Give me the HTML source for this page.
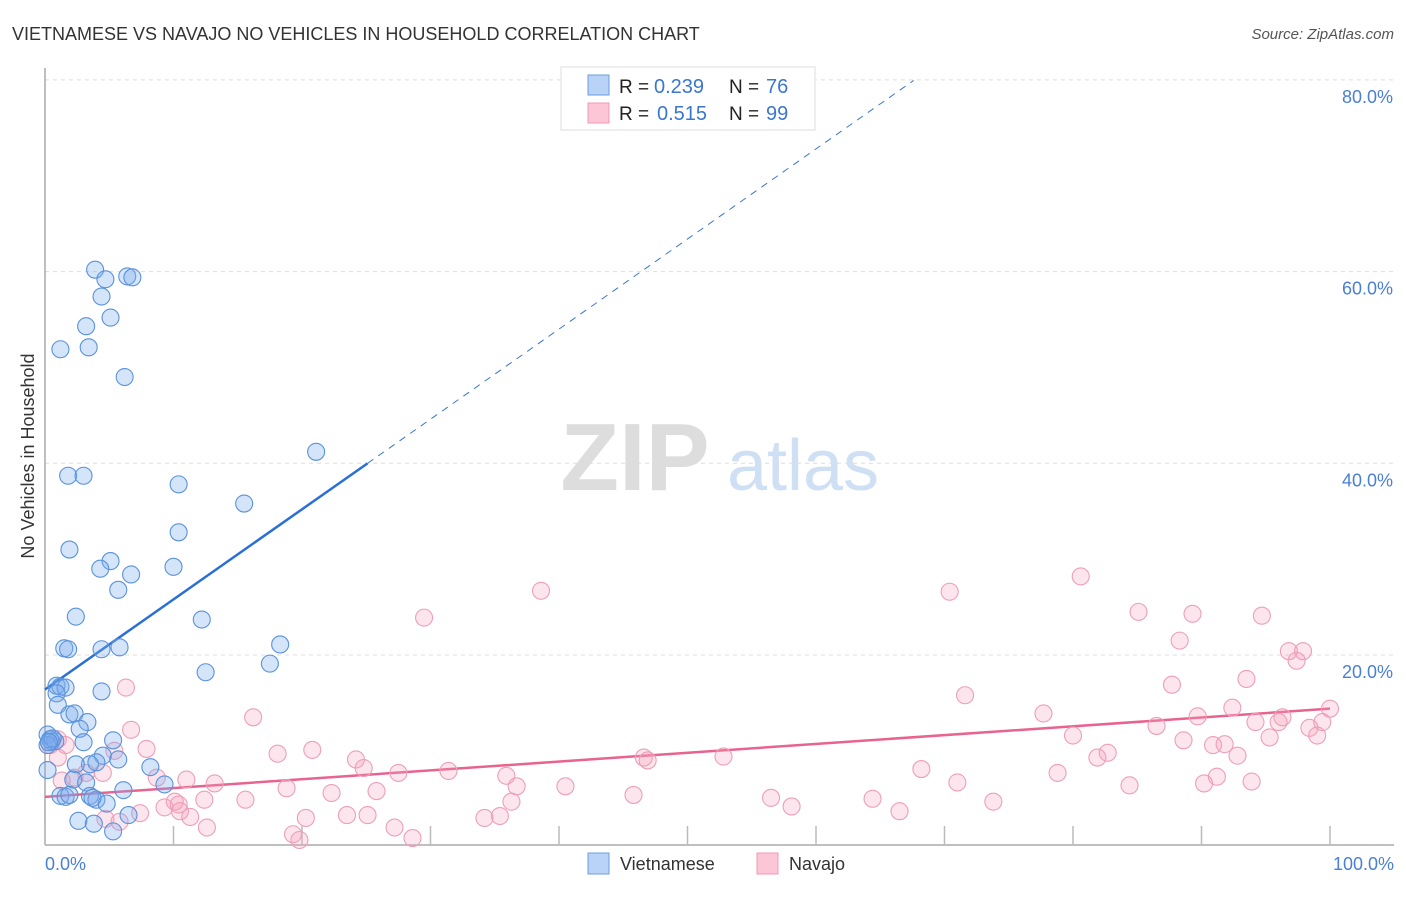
<!DOCTYPE html>
<html><head><meta charset="utf-8">
<style>
body{margin:0;background:#fff;font-family:"Liberation Sans",sans-serif;}
svg text{font-family:"Liberation Sans",sans-serif;}
</style></head>
<body>
<svg id="chart" width="1406" height="892" xmlns="http://www.w3.org/2000/svg">
<text x="12" y="40" font-size="18" fill="#333">VIETNAMESE VS NAVAJO NO VEHICLES IN HOUSEHOLD CORRELATION CHART</text>
<text x="1394" y="39" font-size="15" fill="#555" font-style="italic" text-anchor="end">Source: ZipAtlas.com</text>
<g>
<text x="635" y="490" font-size="96" fill="#ddd" font-family="Liberation Serif" text-anchor="middle" font-weight="bold">ZIP</text>
<text x="803" y="490" font-size="72" fill="#cfe0f5" text-anchor="middle">atlas</text>
</g>
<g id="grid"></g>
<g id="axes"></g>
<g id="trend"></g>
<g id="points"></g>
<text x="34" y="456" font-size="18" fill="#333" text-anchor="middle" transform="rotate(-90 34 456)">No Vehicles in Household</text>
<text x="45" y="870" font-size="18" fill="#4a7fd6">0.0%</text>
<text x="1394" y="870" font-size="18" fill="#4a7fd6" text-anchor="end">100.0%</text>
<g>
<rect x="561" y="67" width="254" height="63" fill="#fff" stroke="#ddd"/>
<rect x="588" y="75" width="21" height="20" fill="#b8d3f5" stroke="#6a9ee0"/>
<rect x="588" y="103" width="21" height="20" fill="#fcc6d6" stroke="#f09ab5"/>
<text x="619" y="93" font-size="19" fill="#222">R =</text>
<text x="654" y="93" font-size="20" fill="#3a76d0">0.239</text>
<text x="729" y="93" font-size="19" fill="#222">N =</text>
<text x="766" y="93" font-size="20" fill="#3a76d0">76</text>
<text x="619" y="120" font-size="19" fill="#222">R =</text>
<text x="657" y="120" font-size="20" fill="#3a76d0">0.515</text>
<text x="729" y="120" font-size="19" fill="#222">N =</text>
<text x="766" y="120" font-size="20" fill="#3a76d0">99</text>
</g>
<g>
<rect x="588" y="853" width="21" height="21" fill="#b8d3f5" stroke="#6a9ee0"/>
<text x="620" y="870" font-size="18" fill="#333">Vietnamese</text>
<rect x="757" y="853" width="21" height="21" fill="#fcc6d6" stroke="#f09ab5"/>
<text x="789" y="870" font-size="18" fill="#333">Navajo</text>
</g>
</svg>
<script>
const yTicks=[20,40,60,80];
const yTickLabels=["20.0%","40.0%","60.0%","80.0%"];
const xTicks=[0,10,20,30,40,50,60,70,80,90,100];
const blueX=[3.9,6.4,6.8,4.7,4.4,5.1,3.2,1.2,3.4,6.2,21.1,1.8,3.0,10.4,15.5,10.4,1.9,5.1,4.3,6.7,10.0,5.7,2.4,12.2,1.5,1.8,4.4,5.8,18.3,17.5,12.5,0.9,1.2,1.6,0.9,4.4,1.0,1.9,2.3,3.3,2.7,0.2,0.5,0.8,3.0,5.3,4.5,5.7,8.2,3.5,2.4,4.0,0.2,9.3,2.2,3.2,6.1,1.2,1.6,1.9,3.5,4.0,4.8,3.7,2.6,3.8,6.5,5.3,0.4,0.2,0.6,0.3];
const blueY=[60.2,59.5,59.4,59.2,57.4,55.2,54.3,51.9,52.1,49.0,41.2,38.7,38.7,37.8,35.8,32.8,31.0,29.8,29.0,28.4,29.2,26.8,24.0,23.7,20.7,20.6,20.6,20.8,21.1,19.1,18.2,16.8,16.7,16.6,16.0,16.2,14.8,13.8,13.9,13.0,12.3,11.7,11.0,11.0,10.9,11.1,9.5,9.1,8.3,8.6,8.6,8.8,8.0,6.5,7.0,6.7,5.9,5.3,5.2,5.4,5.3,4.9,4.5,5.1,2.7,2.4,3.3,1.6,11.2,10.6,11.3,10.9];
const pinkX=[38.6,70.4,80.6,29.5,85.1,89.3,94.7,88.3,96.8,97.9,97.4,6.3,71.6,87.7,93.5,16.2,77.7,89.7,92.4,94.2,96.3,96.0,100,99.4,6.7,86.5,80.0,88.6,90.9,91.8,95.3,98.4,99.0,20.8,18.1,82.7,81.9,92.8,46.6,46.9,52.8,24.2,24.8,27.5,31.4,35.9,36.7,7.9,5.4,3.2,1.0,1.3,2.3,68.2,78.8,91.2,90.2,93.9,84.4,71.0,40.5,13.2,8.7,4.5,11.0,18.8,22.3,25.8,45.8,56.5,58.1,64.4,73.8,12.4,15.6,10.1,10.4,9.3,10.5,7.4,11.3,12.6,20.3,23.5,25.1,27.2,34.2,35.4,36.3,4.7,5.8,19.3,19.8,28.6,1.0,0.4,1.6,66.5];
const pinkY=[26.7,26.6,28.2,23.9,24.5,24.3,24.1,21.5,20.4,20.4,19.4,16.6,15.8,16.9,17.5,13.5,13.9,13.6,14.5,13.0,13.5,13.0,14.4,13.0,12.2,12.6,11.6,11.1,10.6,10.7,11.4,12.4,11.6,10.1,9.7,9.8,9.3,9.5,9.3,9.0,9.4,9.1,8.2,7.7,7.9,7.4,6.3,10.2,10.0,7.7,9.3,6.9,7.2,8.1,7.7,7.3,6.6,6.8,6.4,6.7,6.3,6.6,7.2,7.7,7.0,6.1,5.6,5.8,5.4,5.1,4.2,5.0,4.7,4.9,4.9,4.7,4.4,4.1,3.7,3.5,3.1,2.0,3.0,3.3,3.3,2.0,3.0,3.2,4.7,2.9,2.6,1.3,0.7,0.9,11.2,10.6,10.6,3.7];
const blueTrend=[16.4,0.94]; // intercept, slope
const pinkTrend=[5.2,0.092];
const NS="http://www.w3.org/2000/svg";
const X=v=>45+v*12.85, Y=v=>846.7-v*9.585;
function mk(tag,attrs,parent){const e=document.createElementNS(NS,tag);for(const k in attrs)e.setAttribute(k,attrs[k]);parent.appendChild(e);return e;}
const grid=document.getElementById('grid'),axes=document.getElementById('axes'),trend=document.getElementById('trend'),pts=document.getElementById('points');
yTicks.forEach((t,i)=>{
 const l=mk('line',{x1:45,x2:1394,y1:Y(t),y2:Y(t),stroke:'#ddd','stroke-dasharray':'4,4'},grid);
 
 
 const tx=mk('text',{x:1393,y:Y(t)+23,'font-size':18,fill:'#4a7fd6','text-anchor':'end'},grid);
 tx.textContent=yTickLabels[i];
 
 
});
mk('line',{x1:45,x2:45,y1:68,y2:845,stroke:'#aaa','stroke-width':1.5},axes);
mk('line',{x1:45,x2:1394,y1:845,y2:845,stroke:'#aaa','stroke-width':1.5},axes);
xTicks.forEach(t=>{const l=mk('line',{x1:X(t),x2:X(t),y1:826,y2:845,stroke:'#bbb','stroke-width':1.5},axes);
 
 });
function tl(c,x0,x1,opts){return mk('line',Object.assign({x1:X(x0),y1:Y(c[0]+c[1]*x0),x2:X(x1),y2:Y(c[0]+c[1]*x1)},opts),trend);}
const bd=tl(blueTrend,25.1,67.6,{stroke:'#3a76d0','stroke-width':1,'stroke-dasharray':'7,6'});


const bs=tl(blueTrend,0,25.1,{stroke:'#2a6fd6','stroke-width':2.5});


const ps=tl(pinkTrend,0,100,{stroke:'#e8638e','stroke-width':2.5});


pinkX.forEach((x,i)=>{const c=mk('circle',{cx:X(x),cy:Y(pinkY[i]),r:8.5,fill:'rgba(246,160,188,0.28)',stroke:'#ee9fb8','stroke-width':1.1},pts);
 
 });
blueX.forEach((x,i)=>{const c=mk('circle',{cx:X(x),cy:Y(blueY[i]),r:8.5,fill:'rgba(120,170,235,0.32)',stroke:'#5a92dc','stroke-width':1.1},pts);
 
 });
</script>
</body></html>
